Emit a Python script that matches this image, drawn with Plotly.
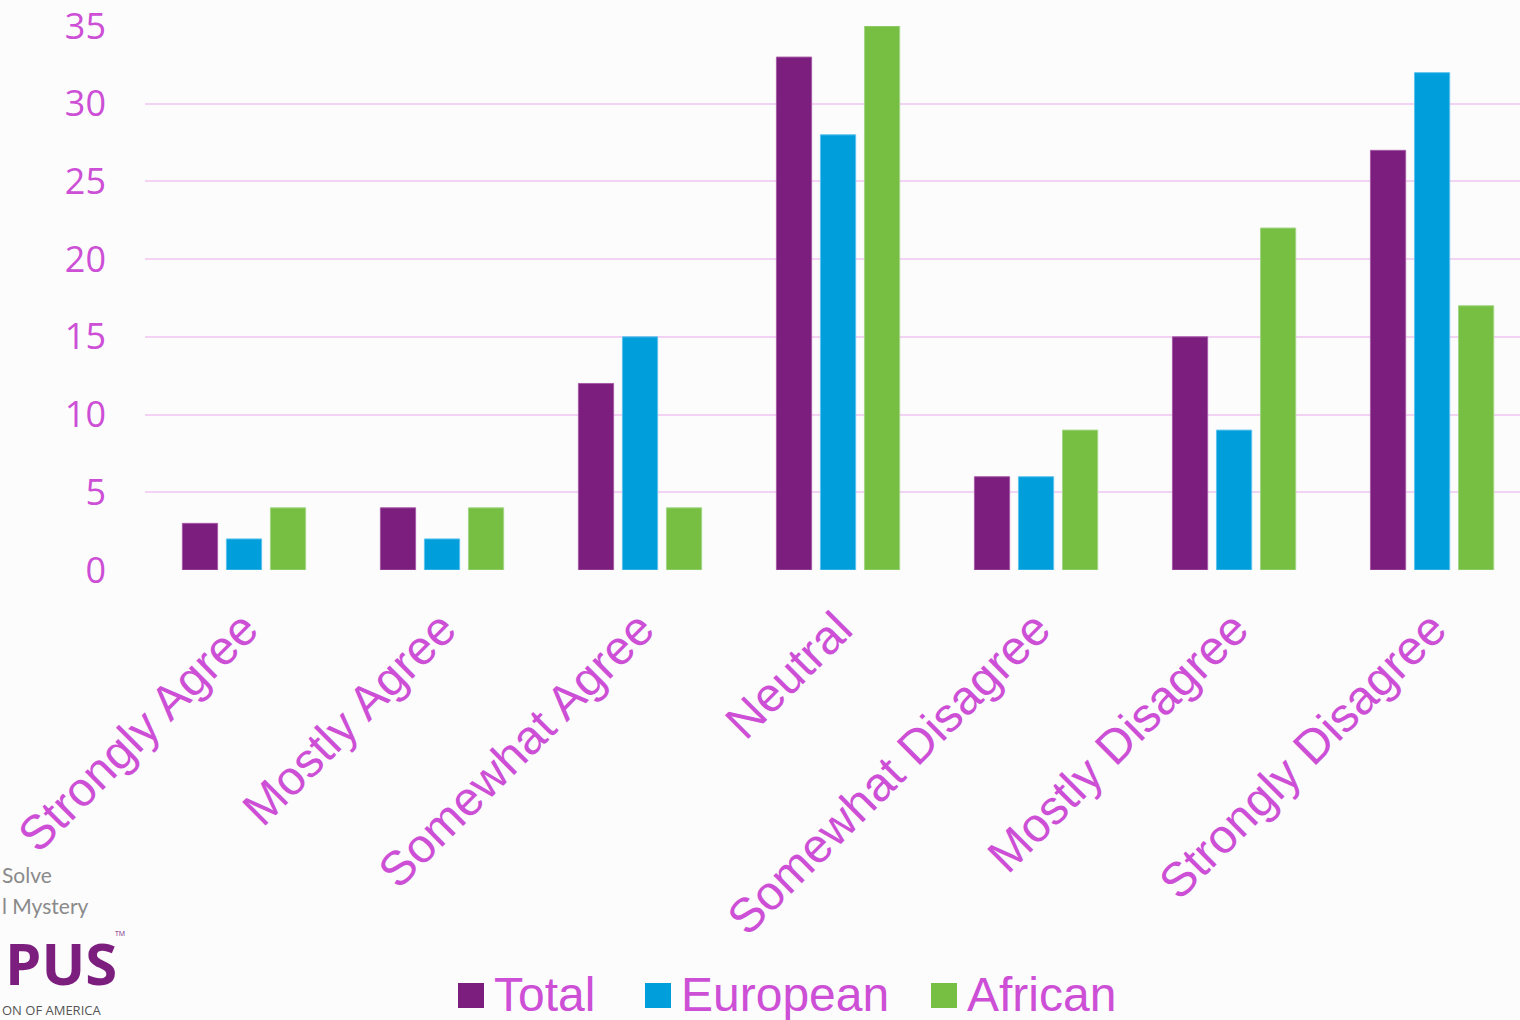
import plotly.graph_objects as go

# Survey responses (percent) by group
categories = ["Strongly Agree", "Mostly Agree", "Somewhat Agree", "Neutral",
              "Somewhat Disagree", "Mostly Disagree", "Strongly Disagree"]
total = [3, 4, 12, 33, 6, 15, 27]
european = [2, 2, 15, 28, 6, 9, 32]
african = [4, 4, 4, 35, 9, 22, 17]

series_names = ["Total", "European", "African"]
y_ticks = [0, 5, 10, 15, 20, 25, 30, 35]

fill_colors = ["#7B1E7E", "#009EDB", "#76BF43"]
edge_colors = ["#A65AA8", "#5CC3EE", "#A3D684"]
text_color = "#CC4FD6"
grid_color = "#F3D3F3"

W, H = 1520, 1020
plot_left, plot_right, plot_top, plot_bottom = 145, 1520, 26, 570


def px_x(px):
    return (px - plot_left) / (plot_right - plot_left)


def px_y(py):
    return (plot_bottom - py) / (plot_bottom - plot_top)


fig = go.Figure()
for name, vals, fc, ec in zip(series_names, [total, european, african], fill_colors, edge_colors):
    fig.add_trace(go.Bar(
        name=name, x=categories, y=vals,
        marker=dict(color=fc, line=dict(color=ec, width=1)),
        showlegend=False,
    ))

# Legend drawn as swatches + labels beneath the chart
legend_items = [("Total", 458), ("European", 645), ("African", 931)]
shapes = []
annotations = []
for (label, x0), fc in zip(legend_items, fill_colors):
    shapes.append(dict(type="rect", xref="paper", yref="paper",
                       x0=px_x(x0), x1=px_x(x0 + 26), y0=px_y(1008), y1=px_y(983),
                       fillcolor=fc, line=dict(width=0)))
    annotations.append(dict(text=label, xref="paper", yref="paper",
                            x=px_x(x0 + 34), y=px_y(994), xanchor="left", yanchor="middle",
                            showarrow=False,
                            font=dict(family="Liberation Sans, Arial", size=48, color=text_color)))

# Organisation logo in the lower-left corner
logo_lines = [
    ("Solve", 0, 874, 21, "#8A8A8A", "Lato", False),
    ("l Mystery", 0, 905, 21, "#8A8A8A", "Lato", False),
    ("PUS", 3, 962, 58, "#7B1E7E", "Open Sans", True),
    ("ON OF AMERICA", 0, 1010, 13, "#555555", "Open Sans", False),
]
for txt, xl, yc, size, col, fam, bold in logo_lines:
    annotations.append(dict(text=f"<b>{txt}</b>" if bold else txt, xref="paper", yref="paper",
                            x=px_x(xl), y=px_y(yc), xanchor="left", yanchor="middle",
                            showarrow=False, font=dict(family=fam, size=size, color=col)))
annotations.append(dict(text="TM", xref="paper", yref="paper",
                        x=px_x(113), y=px_y(934), xanchor="left", yanchor="middle",
                        showarrow=False, font=dict(family="Open Sans", size=7, color="#7B1E7E")))

fig.update_layout(
    width=W, height=H,
    margin=dict(l=plot_left, r=W - plot_right, t=plot_top, b=H - plot_bottom, autoexpand=False),
    paper_bgcolor="#FCFCFC",
    plot_bgcolor="rgba(0,0,0,0)",
    barmode="group",
    bargap=0.333,
    bargroupgap=0.2,
    shapes=shapes,
    annotations=annotations,
    xaxis=dict(
        range=[-0.5, 6.444],
        tickangle=-45,
        tickfont=dict(family="Liberation Sans, Arial", size=48, color=text_color),
        showgrid=False, showline=False, zeroline=False, ticks="",
        ticklabelstandoff=20,
    ),
    yaxis=dict(
        range=[0, 35.0001],
        tickvals=y_ticks,
        tickfont=dict(family="Open Sans", size=36, color=text_color),
        showgrid=True, gridcolor=grid_color, gridwidth=2,
        zeroline=False, showline=False, ticks="",
        ticklabelstandoff=38,
    ),
)

fig.write_html("out.html")
